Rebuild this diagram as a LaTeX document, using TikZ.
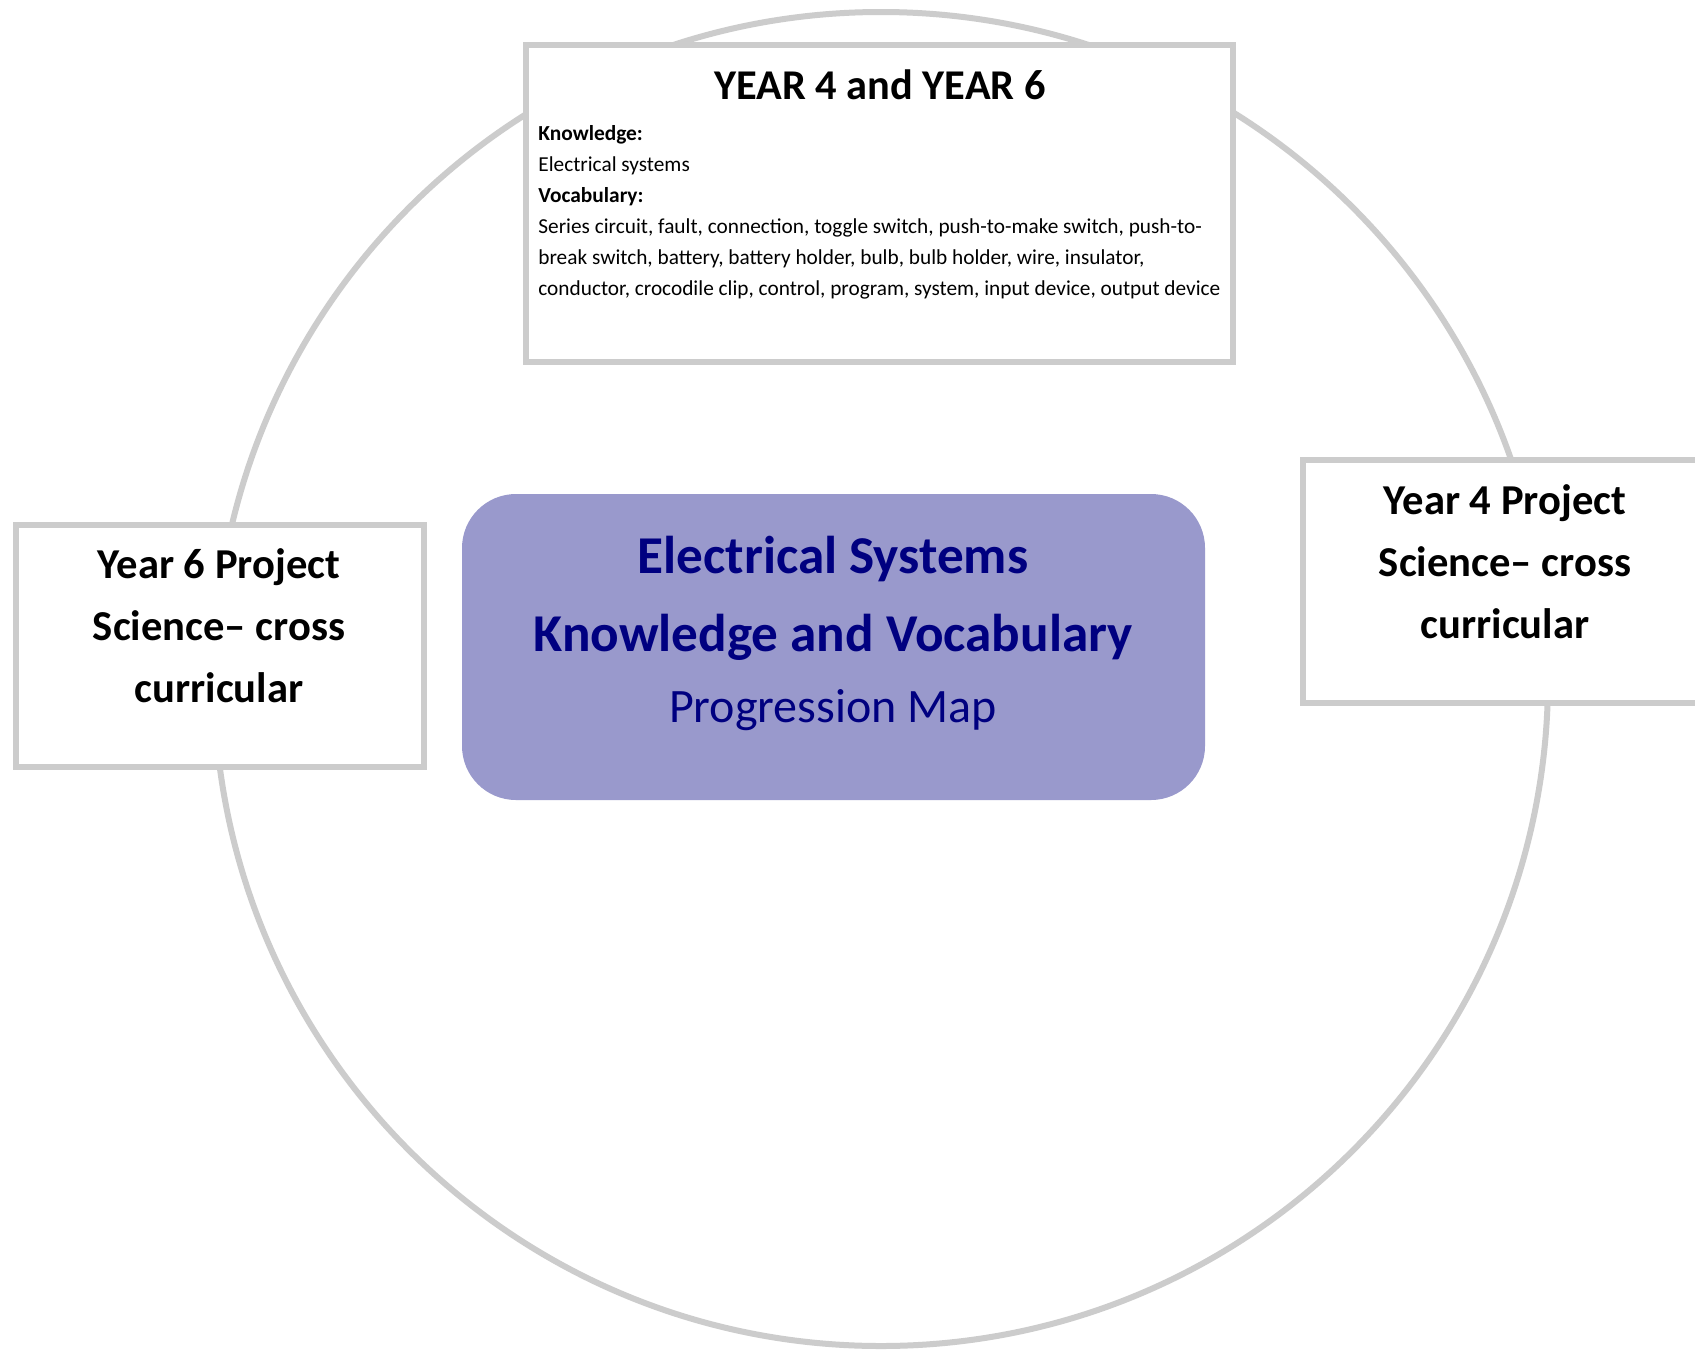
\documentclass[tikz,border=0pt]{standalone}
\usepackage{fontspec}
\setmainfont{Carlito}
\definecolor{ringgray}{HTML}{CCCCCC}
\definecolor{lav}{HTML}{9999CC}
\definecolor{navytext}{HTML}{000080}
\begin{document}
\begin{tikzpicture}[x=0.5pt,y=-0.5pt,
  graybox/.style={draw=ringgray,line width=3pt,fill=white,rectangle,inner sep=0pt},
  line/.style={anchor=base,inner sep=0pt},
  bodyline/.style={anchor=base west,inner sep=0pt,font=\fontsize{10.65}{12}\selectfont},
  sidetext/.style={line,font=\fontsize{21.3}{25}\selectfont\bfseries},
  centertext/.style={line,text=navytext,font=\fontsize{26.6}{30}\selectfont\bfseries}]
\clip (0,0) rectangle (1695,1349);
\fill[white] (0,0) rectangle (1695,1349);
\node[circle,draw=ringgray,line width=3pt,minimum size=667pt,inner sep=0pt] (ring) at (881,679) {};
% top box
\node[graybox,minimum width=353.5pt,minimum height=158.5pt] (topbox) at (879.5,203.5) {};
\node[line,font=\fontsize{21.2}{25}\selectfont\bfseries] (toptitle) at (880,99.5) {YEAR 4 and YEAR 6};
\node[bodyline,font=\fontsize{10.7}{12}\selectfont\bfseries] (kh) at (538,140.5) {Knowledge:};
\node[bodyline] (k1) at (538,171.4) {Electrical systems};
\node[bodyline,font=\fontsize{10.7}{12}\selectfont\bfseries] (vh) at (538,202.3) {Vocabulary:};
\node[bodyline] (v1) at (538,233.2) {Series circuit, fault, connection, toggle switch, push-to-make switch, push-to-};
\node[bodyline] (v2) at (538,264.1) {break switch, battery, battery holder, bulb, bulb holder, wire, insulator,};
\node[bodyline] (v3) at (538,295.0) {conductor, crocodile clip, control, program, system, input device, output device};
% left box
\node[graybox,minimum width=204pt,minimum height=121pt] (leftbox) at (220,646) {};
\node[sidetext] (l1) at (219,578) {Year 6 Project};
\node[sidetext] (l2) at (219,640) {Science– cross};
\node[sidetext] (l3) at (219,702) {curricular};
% right box
\node[graybox,minimum width=204pt,minimum height=121.5pt] (rightbox) at (1507,581.5) {};
\node[sidetext] (r1) at (1505,514.5) {Year 4 Project};
\node[sidetext] (r2) at (1505,576.5) {Science– cross};
\node[sidetext] (r3) at (1505,638.5) {curricular};
% centre box
\node[rectangle,fill=lav,rounded corners=27pt,minimum width=371.5pt,minimum height=153pt,inner sep=0pt] (centre) at (833.5,647) {};
\node[centertext] (c1) at (833,573) {Electrical Systems};
\node[centertext] (c2) at (833,651) {Knowledge and Vocabulary};
\node[line,text=navytext,font=\fontsize{24}{28}\selectfont] (c3) at (833,722) {Progression Map};
\end{tikzpicture}
\end{document}
